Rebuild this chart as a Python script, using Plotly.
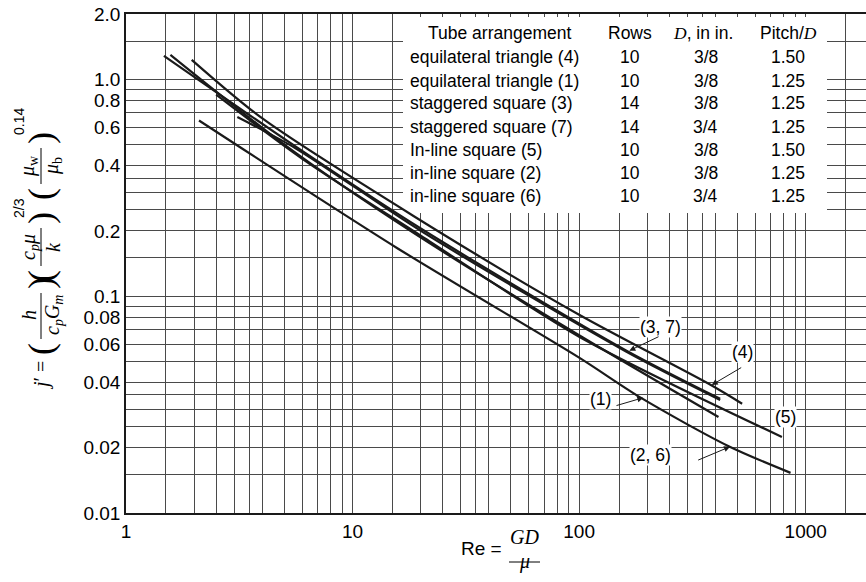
import math
import plotly.graph_objects as go

# ---------------- data ----------------
x_label_vals = [1, 10, 100, 1000]
x_grid_vals = [1.5, 2, 2.5, 3, 3.5, 4, 5, 6, 7, 8, 9, 10, 15, 20, 25, 30, 35, 40, 50, 60, 70, 80, 90,
               100, 150, 200, 250, 300, 350, 400, 500, 600, 700, 800, 900, 1000, 1500]
y_label_vals = [0.01, 0.02, 0.04, 0.06, 0.08, 0.1, 0.2, 0.4, 0.6, 0.8, 1.0, 2.0]
y_label_text = ["0.01", "0.02", "0.04", "0.06", "0.08", "0.1", "0.2", "0.4", "0.6", "0.8", "1.0", "2.0"]
y_grid_vals = [0.015, 0.02, 0.025, 0.03, 0.035, 0.04, 0.05, 0.06, 0.07, 0.08, 0.09, 0.1, 0.15, 0.2,
               0.25, 0.3, 0.35, 0.4, 0.5, 0.6, 0.7, 0.8, 0.9, 1.0, 1.5]

# curves (Re, j')
re_4 = [1.95, 4.0, 18.8, 100, 378, 524]
j_4 = [1.231, 0.66, 0.2325, 0.082, 0.0391, 0.0319]
re_3 = [1.47, 5.62, 20, 161, 419]
j_3 = [1.284, 0.489, 0.205, 0.0562, 0.0336]
re_7 = [3.1, 5.62, 20, 161, 419]
j_7 = [0.670, 0.480, 0.200, 0.0555, 0.0332]
re_1 = [1.57, 5.0, 18.0, 100, 412]
j_1 = [1.298, 0.50, 0.200, 0.066, 0.0277]
re_5 = [2.5, 6.0, 20.0, 100, 785]
j_5 = [0.85, 0.43, 0.190, 0.065, 0.0224]
re_26 = [2.1, 15.7, 100, 186, 457, 857]
j_26 = [0.646, 0.1668, 0.052, 0.0341, 0.0203, 0.0153]

arrangements = ["equilateral triangle (4)", "equilateral triangle (1)", "staggered square (3)",
                "staggered square (7)", "In-line square (5)", "in-line square (2)", "in-line square (6)"]
rows = ["10", "10", "14", "14", "10", "10", "10"]
diameters = ["3/8", "3/8", "3/8", "3/4", "3/8", "3/8", "3/4"]
pitches = ["1.50", "1.25", "1.25", "1.25", "1.50", "1.25", "1.25"]

# ---------------- layout helpers ----------------
W, H = 866, 582
PL, PR, PT, PB = 126, 866, 14, 513          # plot area in page pixels
L, T, R = PL, PT, W - PR
B = H - PB
PW, PH = PR - PL, PB - PT


def px(xs):
    return (xs - PL) / PW


def py(ys):
    return (PB - ys) / PH


SANS = "Liberation Sans, Arial, sans-serif"
SERIF = "Liberation Serif, Times New Roman, serif"
INK = "#1a1a1a"

fig = go.Figure()
for xs, ys in [(re_4, j_4), (re_3, j_3), (re_7, j_7), (re_1, j_1), (re_5, j_5), (re_26, j_26)]:
    fig.add_trace(go.Scatter(x=xs, y=ys, mode="lines",
                             line=dict(color=INK, width=2.2, shape="spline", smoothing=0.8),
                             hoverinfo="skip", showlegend=False))

x_tickvals = sorted(set(x_grid_vals + x_label_vals))
x_ticktext = [str(v) if v in x_label_vals else "" for v in x_tickvals]
y_tickvals = sorted(set(y_grid_vals + y_label_vals))
y_ticktext = [y_label_text[y_label_vals.index(v)] if v in y_label_vals else "" for v in y_tickvals]

XR = [0, math.log10(1845)]
YR = [-2.0005, math.log10(2.0) + 0.0005]
fig.update_layout(
    width=W, height=H, margin=dict(l=L, r=R, t=T, b=B, pad=0, autoexpand=False),
    paper_bgcolor="white", plot_bgcolor="white", showlegend=False,
    font=dict(family=SANS, size=19, color="black"),
    xaxis=dict(type="log", range=XR, tickmode="array", tickvals=x_tickvals,
               ticktext=x_ticktext, ticks="", showgrid=True, gridcolor="#4a4a4a", gridwidth=1,
               showline=True, linecolor=INK, linewidth=1.5, mirror=True, zeroline=False,
               ticklabeloverflow="allow",
               tickfont=dict(family=SANS, size=19, color="black"), fixedrange=True, automargin=False),
    yaxis=dict(type="log", range=YR, tickmode="array", tickvals=y_tickvals,
               ticktext=y_ticktext, ticks="", showgrid=True, gridcolor="#4a4a4a", gridwidth=1,
               showline=True, linecolor=INK, linewidth=1.5, mirror=False, zeroline=False,
               ticklabeloverflow="allow",
               tickfont=dict(family=SANS, size=19, color="black"), fixedrange=True, automargin=False),
)


def vx(xs):   # page px -> data value on x axis
    return 10 ** (XR[0] + (xs - PL) / PW * (XR[1] - XR[0]))


def vy(ys):   # page px -> data value on y axis
    return 10 ** (YR[0] + (PB - ys) / PH * (YR[1] - YR[0]))


shapes = []
# white table box covering the grid (between grid and traces)
shapes.append(dict(type="rect", xref="x", yref="y", x0=vx(403), x1=vx(827), y0=vy(213), y1=vy(17),
                   fillcolor="white", line=dict(width=0), layer="between"))

ann = []
hdr_y = 33.3
DI = "<span style=\"font-family:'Liberation Serif'\"><i>D</i></span>"
ann += [dict(x=px(500), y=py(hdr_y), text="Tube arrangement"),
        dict(x=px(630), y=py(hdr_y), text="Rows"),
        dict(x=px(703), y=py(hdr_y), text=DI + ", in in."),
        dict(x=px(788), y=py(hdr_y), text="Pitch/" + DI)]
row_y = [57.3, 80.7, 103.3, 126.7, 150, 172.7, 196]
for i in range(len(arrangements)):
    ann.append(dict(x=px(408), y=py(row_y[i]), text=arrangements[i], xanchor="left"))
    ann.append(dict(x=px(630), y=py(row_y[i]), text=rows[i]))
    ann.append(dict(x=px(705.7), y=py(row_y[i]), text=diameters[i]))
    ann.append(dict(x=px(788), y=py(row_y[i]), text=pitches[i]))
for a in ann:
    a.update(xref="paper", yref="paper", showarrow=False, font=dict(family=SANS, size=17.5, color="black"))
    a.setdefault("xanchor", "center")
    a.setdefault("yanchor", "middle")

# curve labels
lab = [("(3, 7)", 682, 327), ("(4)", 754, 363), ("(1)", 600, 410), ("(5)", 797, 428), ("(2, 6)", 671.5, 466)]
for t, xx, yy in lab:
    ann.append(dict(xref="paper", yref="paper", x=px(xx), y=py(yy), text=t, showarrow=False,
                    font=dict(family=SANS, size=17.5, color="black"), bgcolor="white", borderpad=0))
arrows = [((660, 336), (629.3, 350.7)), ((742.7, 366.7), (711.7, 385)), ((615, 406), (643.3, 397.7)),
          ((696.7, 460.7), (730, 446.7))]
for (tx, ty), (hx, hy) in arrows:
    ann.append(dict(xref="paper", yref="paper", x=px(hx), y=py(hy), ax=tx - hx, ay=ty - hy, text="",
                    showarrow=True, arrowhead=2, arrowsize=1.2, arrowwidth=1, arrowcolor=INK, standoff=0,
                    startstandoff=0))

# x-axis title: Re = GD / mu
ann.append(dict(xref="paper", yref="paper", x=px(481), y=py(561), text="Re =", showarrow=False,
                font=dict(family=SANS, size=19, color="black")))
ann.append(dict(xref="paper", yref="paper", x=px(524), y=py(550), text="<i>GD</i>", showarrow=False,
                font=dict(family=SERIF, size=20, color="black")))
ann.append(dict(xref="paper", yref="paper", x=px(524), y=py(575), text="<i>μ</i>", showarrow=False,
                font=dict(family=SERIF, size=20, color="black")))
shapes.append(dict(type="line", xref="paper", yref="paper", x0=px(509), x1=px(540), y0=py(562), y1=py(562),
                   line=dict(color="black", width=1)))


# y-axis title: j' = (h / cp Gm)(cp mu / k)^(2/3)(mu_w / mu_b)^0.14  (rotated)
def rot(text, xx, yy, size=20, fam=SERIF):
    return dict(xref="paper", yref="paper", x=px(xx), y=py(yy), text=text, showarrow=False, textangle=-90,
                font=dict(family=fam, size=size, color="black"), xanchor="center", yanchor="middle")


XN, XB, XD, XS = 29, 41, 53, 19
ann.append(rot("<i>j</i>′ =", XB, 376))
groups = [("<i>h</i>", "<i>c<sub>p</sub>G<sub>m</sub></i>", 315, 283, 349, None, None),
          ("<i>c<sub>p</sub>μ</i>", "<i>k</i>", 247, 218, 276, "2/3", 208),
          ("<i>μ</i><sub>w</sub>", "<i>μ</i><sub>b</sub>", 166, 138, 194, "0.14", 122)]
for num, den, yc, ytop, ybot, sup, ysup in groups:
    ann.append(rot(num, XN, yc))
    ann.append(rot(den, XD, yc))
    ann.append(rot("(", XB, ybot, size=36, fam=SERIF))
    ann.append(rot(")", XB, ytop, size=36, fam=SERIF))
    shapes.append(dict(type="line", xref="paper", yref="paper", x0=px(XB), x1=px(XB), y0=py(ybot - 10),
                       y1=py(ytop + 10), line=dict(color="black", width=1)))
    if sup:
        ann.append(rot(sup, XS, ysup, size=14, fam=SANS))

fig.update_layout(shapes=shapes, annotations=ann)
# remove the default 8px page margin so the figure fills the window exactly; hide the mode bar
fig.write_html("out.html", config={"displayModeBar": False},
               post_script="document.body.style.margin='0';")
